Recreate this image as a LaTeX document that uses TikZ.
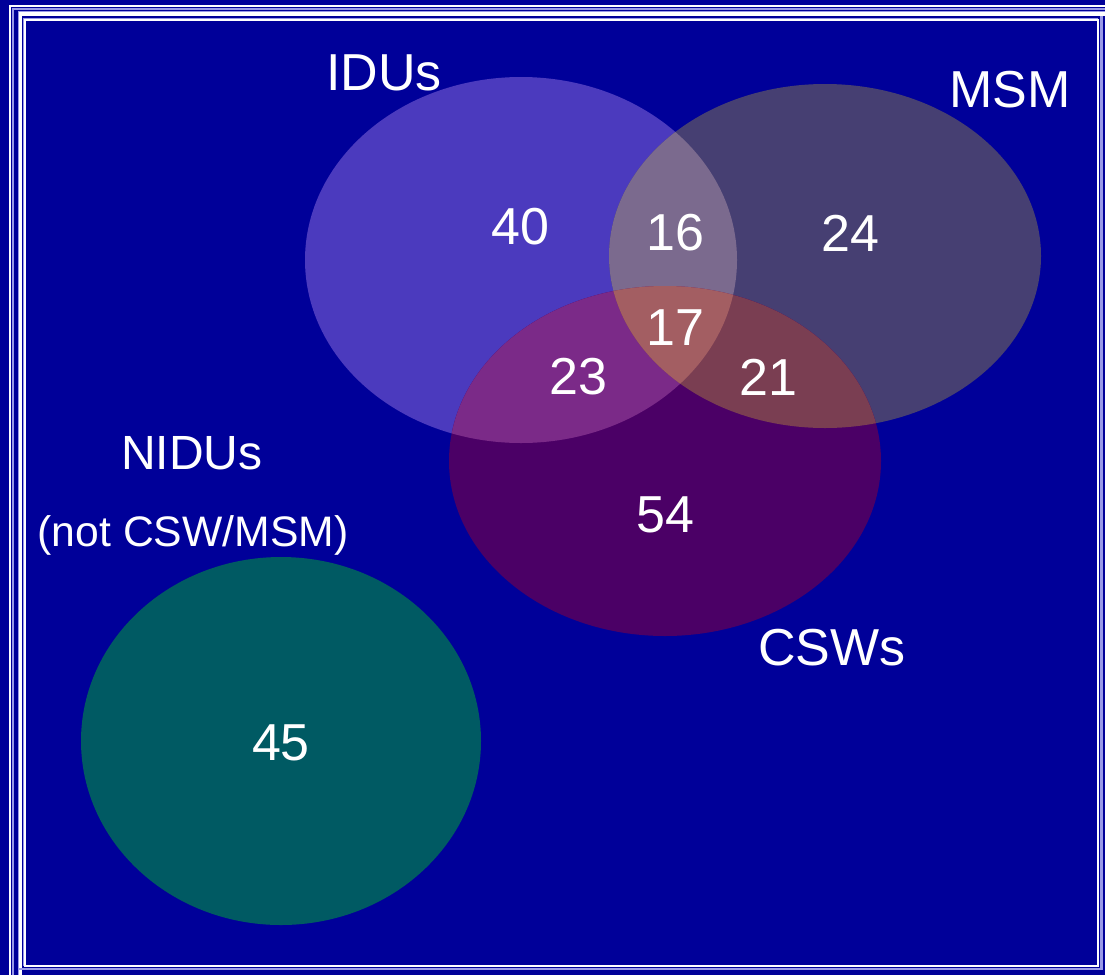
\documentclass[tikz,border=0pt]{standalone}
\usepackage{fontspec}
\setmainfont{Liberation Sans}
\definecolor{bgblue}{HTML}{000099}
\definecolor{lav}{HTML}{9A9AE8}
\definecolor{cidu}{HTML}{4B3ABE}
\definecolor{cmsm}{HTML}{463F72}
\definecolor{ccsw}{HTML}{4B0066}
\definecolor{cnidu}{HTML}{005A63}
\definecolor{cim}{HTML}{7B6A8E}
\definecolor{cic}{HTML}{7B2A88}
\definecolor{cmc}{HTML}{7A3E52}
\definecolor{cimc}{HTML}{A35E62}
\tikzset{
  lbl/.style={text=white, font=\fontsize{39}{39}\selectfont, inner sep=0pt, anchor=center},
  midlbl/.style={text=white, font=\fontsize{36}{36}\selectfont, inner sep=0pt, anchor=center},
  sublbl/.style={text=white, font=\fontsize{32}{32}\selectfont, inner sep=0pt, anchor=center},
  wline/.style={draw=white, line width=#1*0.75pt},
  lline/.style={draw=lav, line width=#1*0.75pt}
}
\newcommand{\idupath}{(521,260) ellipse [x radius=162pt, y radius=137.25pt]}
\newcommand{\msmpath}{(825,256) ellipse [x radius=162pt, y radius=129pt]}
\newcommand{\cswpath}{(665,461) ellipse [x radius=162pt, y radius=131.25pt]}
\begin{document}
\begin{tikzpicture}[x=0.75pt, y=-0.75pt]
\fill[bgblue] (0,0) rectangle (1105,975);
\useasboundingbox (0,0) rectangle (1105,975);
% frame
\draw[lline=2] (12.5,975) -- (12.5,8.5) -- (1105,8.5);
\draw[wline=2.5] (10,975) -- (10,6) -- (1105,6);
\draw[lline=1] (18,975) -- (18,11.5) -- (1105,11.5);
\draw[wline=3.5] (20.5,975) -- (20.5,14) -- (1105,14);
\draw[lline=2.5] (19,969) -- (1101.5,969) -- (1101.5,16);
\draw[lline=1] (23,966) -- (23,18) -- (1098,18);
\draw[wline=2] (24.5,966) rectangle (1098,19.5);
% circles
\fill[cidu] \idupath;
\fill[cmsm] \msmpath;
\fill[ccsw] \cswpath;
\fill[cnidu] (281,741) ellipse [x radius=150pt, y radius=138pt];
\begin{scope}
  \clip \idupath;
  \fill[cim] \msmpath;
  \fill[cic] \cswpath;
\end{scope}
\begin{scope}
  \clip \msmpath;
  \fill[cmc] \cswpath;
\end{scope}
\begin{scope}
  \clip \idupath;
  \clip \msmpath;
  \fill[cimc] \cswpath;
\end{scope}
% labels
\node[lbl] (idus) at (384,73) {IDUs};
\node[lbl] (msm) at (1010,90) {MSM};
\node[lbl] (csws) at (832,648) {CSWs};
\node[midlbl] (nidus) at (192,453) {NIDUs};
\node[sublbl] (notcsw) at (193,535) {(not CSW/MSM)};
\node[lbl] (n40) at (520,227) {40};
\node[lbl] (n16) at (675,233) {16};
\node[lbl] (n24) at (850,233) {24};
\node[lbl] (n17) at (675,328) {17};
\node[lbl] (n23) at (578,377) {23};
\node[lbl] (n21) at (768,377) {21};
\node[lbl] (n54) at (665,515) {54};
\node[lbl] (n45) at (281,743) {45};
\end{tikzpicture}
\end{document}
